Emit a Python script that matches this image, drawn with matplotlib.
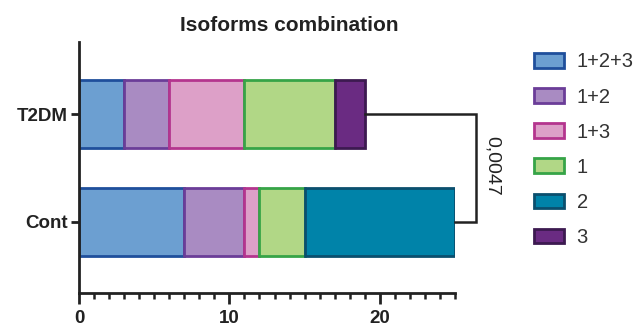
import numpy as np
import matplotlib.pyplot as plt
from matplotlib.patches import Patch

plt.rcParams['font.family'] = ['Liberation Sans', 'DejaVu Sans']

# data
groups = ["Cont", "T2DM"]
isoforms = ["1+2+3", "1+2", "1+3", "1", "2", "3"]
values = {
    "1+2+3": [7, 3],
    "1+2": [4, 3],
    "1+3": [1, 5],
    "1": [3, 6],
    "2": [10, 0],
    "3": [0, 2],
}
p_value = "0,0047"

fills = ["#6c9fd1", "#a98bc2", "#dda0c8", "#b1d786", "#0083a9", "#6a2b82"]
edges = ["#1f4f9c", "#6b3d98", "#b4358e", "#36a447", "#0b4f6e", "#3c1a50"]

fig = plt.figure(figsize=(6.38, 3.27), dpi=100)
ax = fig.add_axes([0.124, 0.104, 0.589, 0.768])

ypos = np.arange(len(groups))
left = np.zeros(len(groups))
for iso, fc, ec in zip(isoforms, fills, edges):
    v = np.array(values[iso], dtype=float)
    mask = v > 0
    ax.barh(ypos[mask], v[mask], left=left[mask], height=0.63,
            color=fc, edgecolor=ec, linewidth=2)
    left += v

ax.set_xlim(0, 25)
ax.set_ylim(-0.66, 1.67)
ax.set_yticks(ypos)
ax.set_yticklabels(groups, fontsize=13.5, fontweight="bold", color="#222222")
ax.set_xticks([0, 10, 20])
ax.set_xticks(np.arange(0, 26, 1), minor=True)
ax.tick_params(axis="x", which="major", length=8, width=2, labelsize=13.5,
               pad=4, colors="#222222")
ax.tick_params(axis="x", which="minor", length=4, width=1.8, color="#222222")
ax.tick_params(axis="y", length=6, width=2, pad=2, colors="#222222")
for lab in ax.get_xticklabels():
    lab.set_fontweight("bold")
for s in ["top", "right"]:
    ax.spines[s].set_visible(False)
for s in ["left", "bottom"]:
    ax.spines[s].set_linewidth(2)
    ax.spines[s].set_color("#222222")

# significance bracket
totals = left
bx = 26.4
ax.plot([totals[1], bx, bx, totals[0]], [1, 1, 0, 0], color="#222222",
        lw=1.8, clip_on=False, solid_joinstyle="miter")
ax.text(bx + 0.5, 0.52, p_value, rotation=-90, ha="left", va="center",
        fontsize=14, color="#222222", clip_on=False)

ax.set_title("Isoforms combination", fontsize=15, fontweight="bold",
             color="#222222", pad=8, x=0.558)

handles = [Patch(facecolor=fc, edgecolor=ec, linewidth=2)
           for fc, ec in zip(fills, edges)]
fig.legend(handles, isoforms, loc="upper left", bbox_to_anchor=(0.809, 0.895),
           frameon=False, fontsize=14.5, handlelength=1.5, handleheight=0.75,
           labelspacing=0.8, handletextpad=0.6, labelcolor="#333333")

fig.savefig("out.png", dpi=100)
